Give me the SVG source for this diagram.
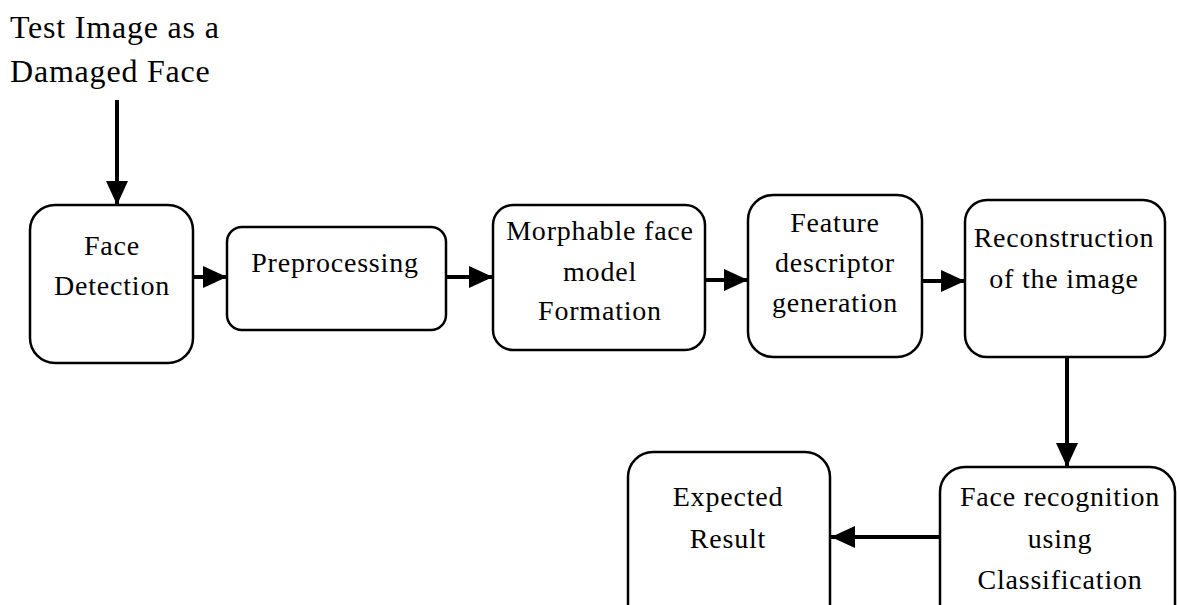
<svg xmlns="http://www.w3.org/2000/svg" width="1177" height="605" viewBox="0 0 1177 605">
<style>
.box{fill:#fff;stroke:#000;stroke-width:2.5}
.t{font-family:"Liberation Serif","Times New Roman",serif;font-size:28px;fill:#000;text-anchor:middle;letter-spacing:0.8px}
.top{font-family:"Liberation Serif","Times New Roman",serif;font-size:32px;fill:#000;letter-spacing:0.8px}
.c{stroke:#000;stroke-width:4;fill:none;marker-end:url(#ah)}
</style>
<defs>
<marker id="ah" markerUnits="userSpaceOnUse" markerWidth="24" markerHeight="22" refX="24" refY="11" orient="auto">
<path d="M0,0 L24,11 L0,22 Z" fill="#000"/>
</marker>
</defs>
<rect width="1177" height="605" fill="#fff"/>
<g id="input">
<text class="top" x="10" y="38">Test Image as a</text>
<text class="top" x="10" y="82">Damaged Face</text>
</g>
<g id="connectors">
<line class="c" x1="117" y1="100" x2="117" y2="205"/>
<line class="c" x1="193" y1="277" x2="227" y2="277"/>
<line class="c" x1="446" y1="277" x2="493" y2="277"/>
<line class="c" x1="705" y1="280" x2="748" y2="280"/>
<line class="c" x1="922" y1="281" x2="965" y2="281"/>
<line class="c" x1="1067" y1="357" x2="1067" y2="467"/>
<line class="c" x1="940" y1="537" x2="831" y2="537"/>
</g>
<g id="face-detection">
<rect class="box" x="30" y="205" width="163" height="158" rx="25"/>
<text class="t" x="112" y="255">Face</text>
<text class="t" x="112" y="295">Detection</text>
</g>
<g id="preprocessing">
<rect class="box" x="227" y="227" width="219" height="103" rx="15"/>
<text class="t" x="335" y="272">Preprocessing</text>
</g>
<g id="morphable">
<rect class="box" x="493" y="205" width="212" height="145" rx="20"/>
<text class="t" x="600" y="240">Morphable face</text>
<text class="t" x="600" y="281">model</text>
<text class="t" x="600" y="320">Formation</text>
</g>
<g id="feature">
<rect class="box" x="748" y="195" width="174" height="162" rx="25"/>
<text class="t" x="835" y="232">Feature</text>
<text class="t" x="835" y="272">descriptor</text>
<text class="t" x="835" y="312">generation</text>
</g>
<g id="reconstruction">
<rect class="box" x="965" y="200" width="200" height="157" rx="22"/>
<text class="t" x="1064" y="247">Reconstruction</text>
<text class="t" x="1064" y="288">of the image</text>
</g>
<g id="face-recognition">
<rect class="box" x="940" y="467" width="235" height="180" rx="25"/>
<text class="t" x="1060" y="506">Face recognition</text>
<text class="t" x="1060" y="548">using</text>
<text class="t" x="1060" y="589">Classification</text>
</g>
<g id="expected">
<rect class="box" x="628" y="452" width="202" height="200" rx="25"/>
<text class="t" x="728" y="506">Expected</text>
<text class="t" x="728" y="548">Result</text>
</g>
</svg>
